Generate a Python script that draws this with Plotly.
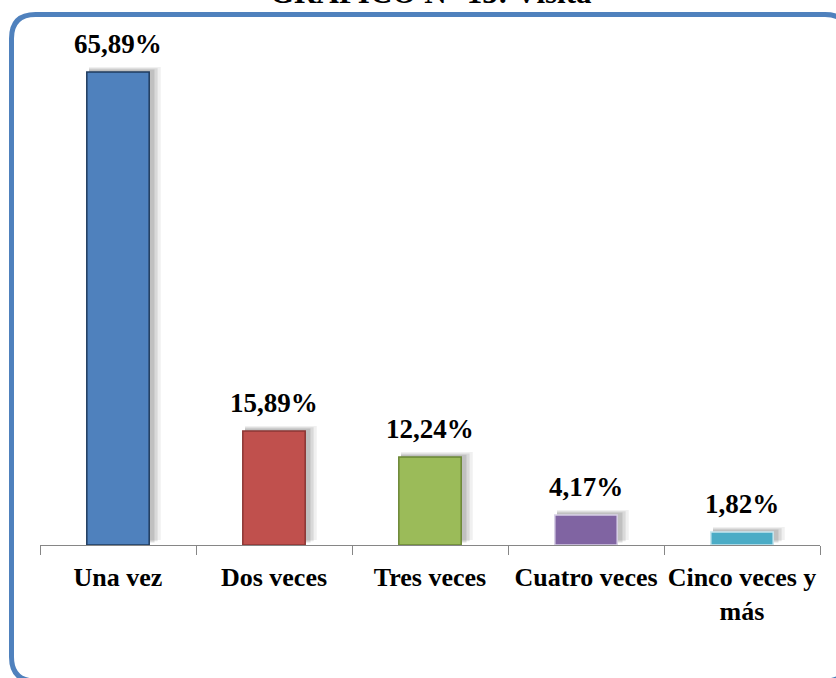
import plotly.graph_objects as go

# Frequency of visits (share of respondents, %)
categorias = ["Una vez", "Dos veces", "Tres veces", "Cuatro veces", "Cinco veces y<br>más"]
porcentajes = [65.89, 15.89, 12.24, 4.17, 1.82]
etiquetas = ["65,89%", "15,89%", "12,24%", "4,17%", "1,82%"]

colores = ["#4F81BD", "#C0504D", "#9BBB59", "#8064A2", "#4BACC6"]
bordes = ["#1F3B5E", "#8A3634", "#6A8635", "#D8D0E6", "#C8E6EF"]

W, H = 836, 678
M_L, M_R, M_T, M_B = 40, 16, 27, 133
PLOT_W = W - M_L - M_R
PLOT_H = H - M_T - M_B
Y_MAX = 72.15
SERIF = "Liberation Serif, Times New Roman, serif"


def px(x):
    return (x - M_L) / PLOT_W


def py(y):
    return (H - M_B - y) / PLOT_H


fig = go.Figure()

# soft drop shadow behind each bar, built up from a few translucent layers
for i, (dx, extra, op) in enumerate([(0.034, 0.06, 0.08), (0.024, 0.04, 0.12), (0.014, 0.02, 0.16)]):
    fig.add_trace(go.Bar(
        x=categorias, y=porcentajes,
        base=0.7 - i * 0.18,
        width=0.40 + extra, offset=-0.20 + dx - extra / 2 + 0.01,
        marker=dict(color="rgba(60,60,60,%.2f)" % op, line=dict(width=0)),
        hoverinfo="skip", showlegend=False,
    ))

fig.add_trace(go.Bar(
    x=categorias, y=porcentajes,
    width=0.40, offset=-0.20,
    marker=dict(color=colores, line=dict(color=bordes, width=1.5)),
    showlegend=False,
))

# value labels above the bars
for cat, val, lab in zip(categorias, porcentajes, etiquetas):
    fig.add_annotation(
        x=cat, y=val, text=lab, xref="x", yref="y",
        xanchor="center", yanchor="bottom", yshift=11, showarrow=False,
        font=dict(family=SERIF, size=27, color="black", weight="bold"),
    )

# rounded blue frame around the chart
L, T, R, B, r = 11.5, 14.5, 849, 681, 24
path = (
    f"M {px(L)},{py(T + r)} "
    f"Q {px(L)},{py(T)} {px(L + r)},{py(T)} "
    f"L {px(R - r)},{py(T)} "
    f"Q {px(R)},{py(T)} {px(R)},{py(T + r)} "
    f"L {px(R)},{py(B - r)} "
    f"Q {px(R)},{py(B)} {px(R - r)},{py(B)} "
    f"L {px(L + r)},{py(B)} "
    f"Q {px(L)},{py(B)} {px(L)},{py(B - r)} Z"
)
fig.add_shape(type="path", path=path, xref="paper", yref="paper",
              line=dict(color="#4F81BD", width=5), layer="below")

fig.add_annotation(
    text="GRAFICO N° 13: Visita", x=px(431), y=py(12), xref="paper", yref="paper",
    xanchor="center", yanchor="bottom", showarrow=False,
    font=dict(family=SERIF, size=31, color="black", weight="bold"),
)

fig.update_layout(
    width=W, height=H,
    margin=dict(l=M_L, r=M_R, t=M_T, b=M_B, autoexpand=False),
    paper_bgcolor="white", plot_bgcolor="white",
    barmode="overlay", bargap=0.6,
    xaxis=dict(
        type="category", range=[-0.5, 4.5], automargin=False, tickangle=0,
        showline=True, linecolor="#868686", linewidth=1.2,
        ticks="outside", tickson="boundaries", ticklen=9, tickcolor="#868686", tickwidth=1.2,
        ticklabelstandoff=9,
        tickfont=dict(family=SERIF, size=26, color="black", weight="bold"),
        showgrid=False,
    ),
    yaxis=dict(range=[0, Y_MAX], visible=False, showgrid=False, automargin=False),
)

fig.write_html("out.html")
